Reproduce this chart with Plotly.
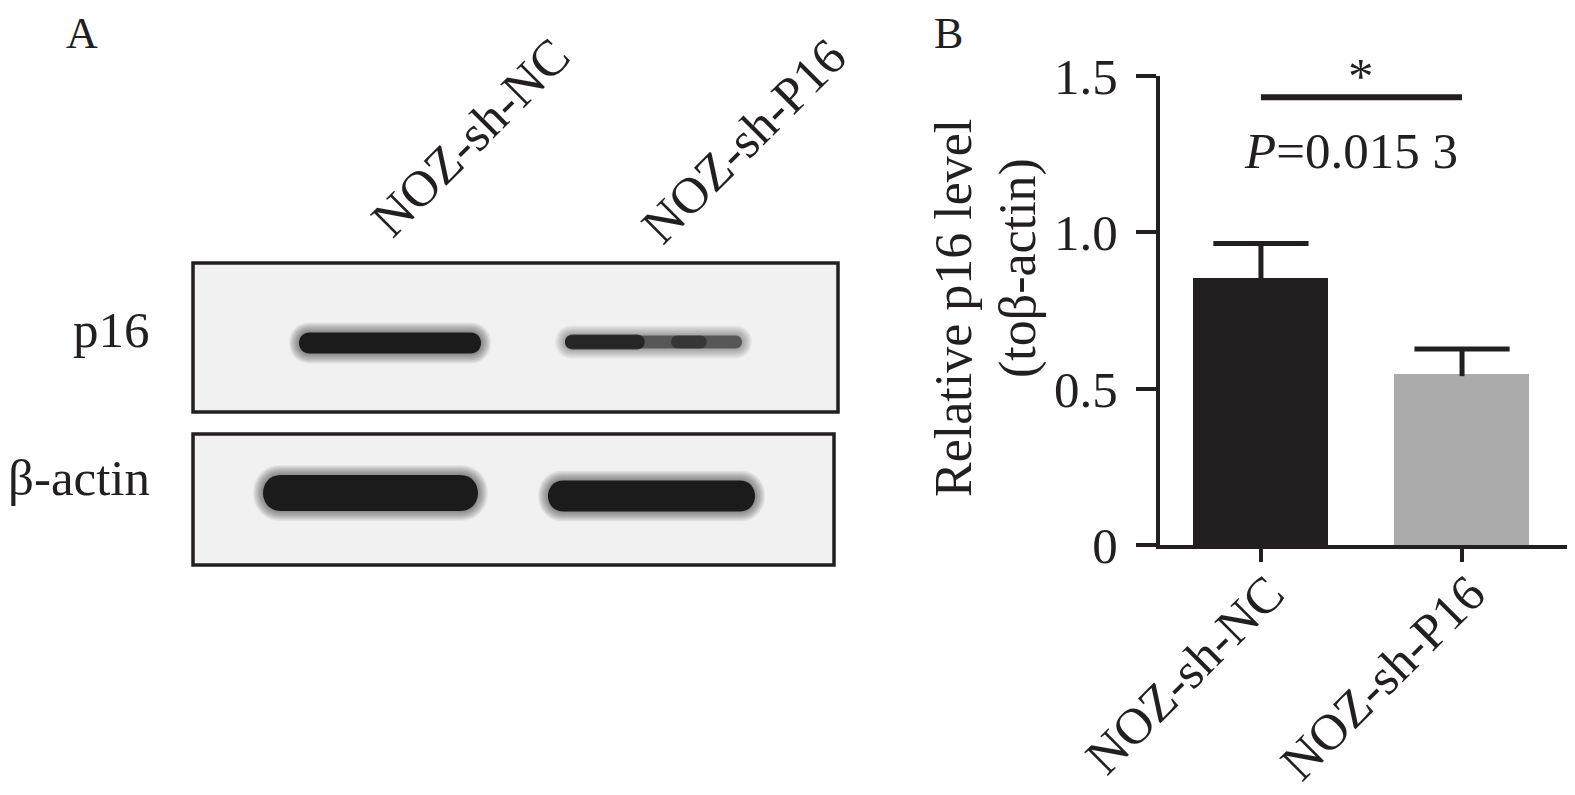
import plotly.graph_objects as go

# ---------------- Panel B data (bar chart) ----------------
groups = ["NOZ-sh-NC", "NOZ-sh-P16"]
rel_level = [0.847, 0.540]          # relative p16 level (to beta-actin)
rel_err = [0.117, 0.087]            # upper error
bar_colors = ["#231f20", "#ababab"]
y_ticks = [0, 0.5, 1.0, 1.5]
y_tick_text = ["0", "0.5", "1.0", "1.5"]
sig_level = 1.432
p_label = "<i>P</i>=0.015 3"
star_label = "*"

# ---------------- Panel A data (western blot) ----------------
blot_rows = ["p16", "β-actin"]
lane_labels = ["NOZ-sh-NC", "NOZ-sh-P16"]
# band extents (pixels), per row and lane
band_left = {"p16": [299, 565], "β-actin": [263, 548]}
band_right = {"p16": [481, 742], "β-actin": [478, 755]}
band_mid = {"p16": [343, 342], "β-actin": [493, 496]}
band_thick = {"p16": [21, 13], "β-actin": [36, 31]}
band_strength = {"p16": [1.0, 0.55], "β-actin": [1.0, 1.0]}

# page body has an 8px margin: size the figure so it fills the window exactly
OFF = 8
W, H = 1575 - OFF, 795 - OFF
FONT = "Liberation Serif, Times New Roman, serif"
INK = "#231f20"
FS = 51


def X(p):
    return (p - OFF) / W


def Y(p):
    return 1 - (p - OFF) / H


def band_path(x0, x1, yc, h):
    r = h / 2.0
    c = 1.333 * r
    pts = [
        ("M", [(x0 + r, yc - r)]),
        ("L", [(x1 - r, yc - r)]),
        ("C", [(x1 - r + c, yc - r), (x1 - r + c, yc + r), (x1 - r, yc + r)]),
        ("L", [(x0 + r, yc + r)]),
        ("C", [(x0 + r - c, yc + r), (x0 + r - c, yc - r), (x0 + r, yc - r)]),
    ]
    s = ""
    for cmd, ps in pts:
        s += cmd + " " + " ".join(f"{X(a):.5f},{Y(b):.5f}" for a, b in ps) + " "
    return s + "Z"


fig = go.Figure()

fig.add_trace(go.Bar(
    x=groups, y=rel_level, width=0.657,
    marker=dict(color=bar_colors, line=dict(color=bar_colors, width=3)),
    showlegend=False, hoverinfo="skip",
))
# error bars: stem from bar top up, plus a cap at the top
tops = [m + e for m, e in zip(rel_level, rel_err)]
fig.add_trace(go.Scatter(
    x=groups, y=tops, mode="markers",
    marker=dict(symbol="line-ew", size=68, color=INK, line=dict(color=INK, width=5)),
    error_y=dict(type="data", array=[0] * len(rel_err), arrayminus=rel_err,
                 symmetric=False, color=INK, thickness=5, width=0),
    showlegend=False, hoverinfo="skip",
))
fig.add_trace(go.Scatter(
    x=groups, y=[sig_level] * len(groups), mode="lines",
    line=dict(color=INK, width=6), showlegend=False, hoverinfo="skip",
))

fig.update_layout(
    template="none",
    width=W, height=H,
    margin=dict(l=0, r=0, t=0, b=0, autoexpand=False),
    paper_bgcolor="white", plot_bgcolor="rgba(0,0,0,0)",
    font=dict(family=FONT, color=INK, size=FS),
    bargap=0,
    xaxis=dict(
        domain=[X(1160), X(1567)], range=[-0.502, 1.522], automargin=False,
        showline=True, linecolor=INK, linewidth=4,
        ticks="outside", ticklen=13, tickwidth=4, tickcolor=INK,
        tickangle=-45, tickfont=dict(size=FS, family=FONT, color=INK),
        ticklabelstandoff=-19, ticklabelshift=8,
        showgrid=False, zeroline=False, fixedrange=True,
    ),
    yaxis=dict(
        domain=[Y(545), Y(76)], range=[0, 1.5], automargin=False,
        showline=True, linecolor=INK, linewidth=4,
        ticks="outside", ticklen=20, tickwidth=4, tickcolor=INK,
        tickvals=y_ticks, ticktext=y_tick_text,
        tickfont=dict(size=FS, family=FONT, color=INK),
        ticklabelstandoff=8,
        showgrid=False, zeroline=False, fixedrange=True,
    ),
)

ann = []
ann.append(dict(x=0.5, y=1.50, xref="x", yref="y", text=star_label, showarrow=False,
                font=dict(size=FS, family=FONT, color=INK), xanchor="center", yanchor="middle"))
ann.append(dict(x=0.45, y=1.26, xref="x", yref="y", text=p_label, showarrow=False,
                font=dict(size=FS, family=FONT, color=INK), xanchor="center", yanchor="middle"))
ann.append(dict(x=X(953), y=Y(308), xref="paper", yref="paper", text="Relative p16 level",
                textangle=-90, showarrow=False, font=dict(size=52, family=FONT, color=INK),
                xanchor="center", yanchor="middle"))
ann.append(dict(x=X(1018), y=Y(268), xref="paper", yref="paper", text="(toβ-actin)",
                textangle=-90, showarrow=False, font=dict(size=52, family=FONT, color=INK),
                xanchor="center", yanchor="middle"))
# panel letters, kept fully inside the top edge
ann.append(dict(x=X(82), y=1, xref="paper", yref="paper", text="A", showarrow=False,
                borderpad=0, font=dict(size=44, family=FONT, color=INK),
                xanchor="center", yanchor="top"))
ann.append(dict(x=X(948), y=1, xref="paper", yref="paper", text="B", showarrow=False,
                borderpad=0, font=dict(size=44, family=FONT, color=INK),
                xanchor="center", yanchor="top"))

lane_label_pos = [(471, 137), (744, 141)]
for lab, (lx, ly) in zip(lane_labels, lane_label_pos):
    ann.append(dict(x=X(lx), y=Y(ly), xref="paper", yref="paper", text=lab, textangle=-45,
                    showarrow=False, font=dict(size=FS, family=FONT, color=INK),
                    xanchor="center", yanchor="middle"))
row_label_y = {"p16": 330, "β-actin": 478}
for r in blot_rows:
    ann.append(dict(x=X(152), y=Y(row_label_y[r]), xref="paper", yref="paper", text=r,
                    showarrow=False, font=dict(size=FS, family=FONT, color=INK),
                    xanchor="right", yanchor="middle"))

shapes = []
membranes = {"p16": (193, 263, 838, 412), "β-actin": (193, 434, 834, 565)}
for r in blot_rows:
    x0, y0, x1, y1 = membranes[r]
    shapes.append(dict(type="rect", xref="paper", yref="paper",
                       x0=X(x0), x1=X(x1), y0=Y(y1), y1=Y(y0),
                       fillcolor="#f1f1f1", line=dict(color=INK, width=3.5), layer="below"))
for r in blot_rows:
    for i in range(len(lane_labels)):
        l, rr = band_left[r][i], band_right[r][i]
        yc, h, s = band_mid[r][i], band_thick[r][i], band_strength[r][i]
        for k in range(10, 0, -1):
            e = 1.0 * k
            shapes.append(dict(type="path", xref="paper", yref="paper",
                               path=band_path(l - e, rr + e, yc, h + 2 * e),
                               fillcolor="#1b1b1b", opacity=0.045 * s + 0.015,
                               line=dict(width=0), layer="above"))
        shapes.append(dict(type="path", xref="paper", yref="paper",
                           path=band_path(l, rr, yc, h), fillcolor="#161616",
                           opacity=0.96 if s >= 1 else s, line=dict(width=0)))
        if s < 1:
            shapes.append(dict(type="path", xref="paper", yref="paper",
                               path=band_path(l, l + 0.45 * (rr - l), yc, h + 2),
                               fillcolor="#161616", opacity=0.75, line=dict(width=0)))
            shapes.append(dict(type="path", xref="paper", yref="paper",
                               path=band_path(l + 0.6 * (rr - l), l + 0.8 * (rr - l), yc, h),
                               fillcolor="#161616", opacity=0.5, line=dict(width=0)))

fig.update_layout(annotations=ann, shapes=shapes)
fig.write_html("out.html")
